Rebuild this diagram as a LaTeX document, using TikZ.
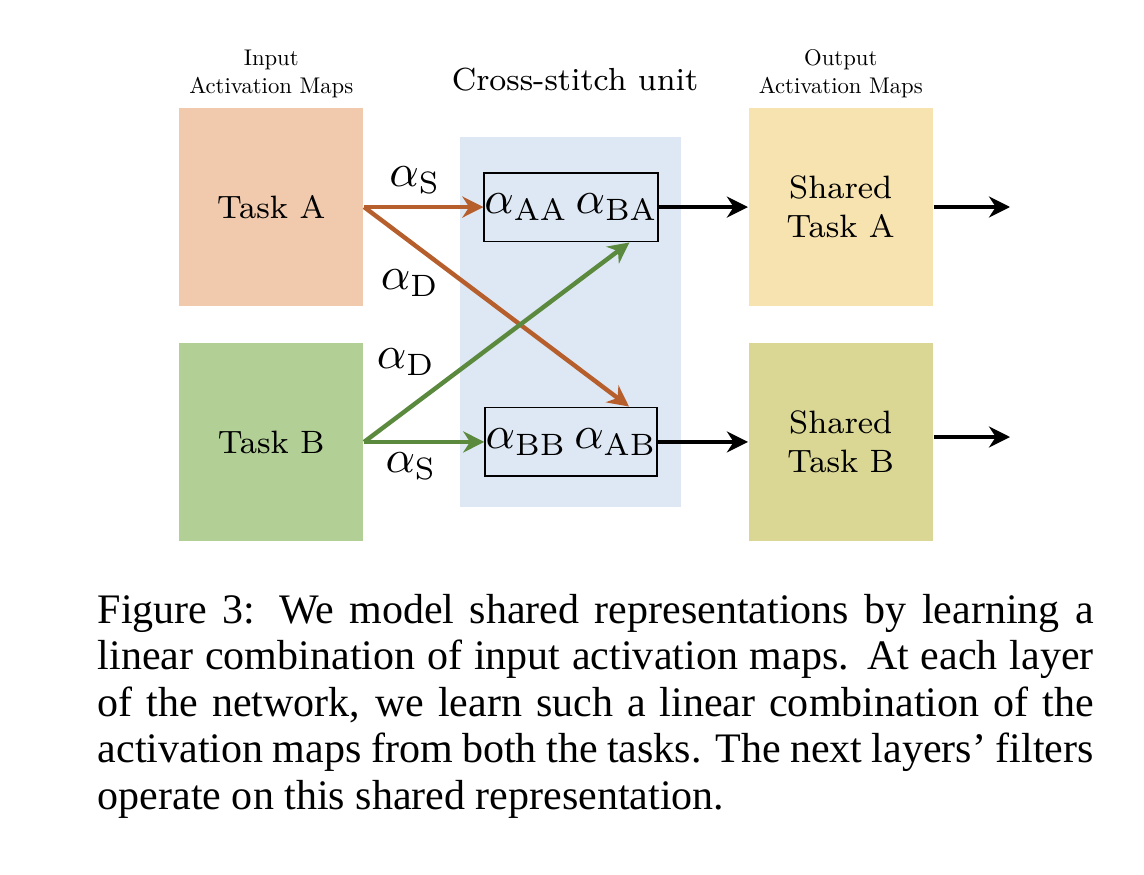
\documentclass[tikz,border=0pt]{standalone}
\usepackage{fontspec}
\usepackage{graphicx}
\newfontfamily\capfont{Liberation Serif}
\usetikzlibrary{matrix,positioning,arrows.meta}
\definecolor{inacol}{HTML}{F1CAAD}
\definecolor{inbcol}{HTML}{B2D096}
\definecolor{outacol}{HTML}{F7E3B0}
\definecolor{outbcol}{HTML}{DAD794}
\definecolor{unitcol}{HTML}{DEE8F4}
\definecolor{oarrow}{HTML}{B65F2C}
\definecolor{garrow}{HTML}{5B8A3E}
\newcommand{\maptitle}[2]{\scalebox{0.54}{\begin{tabular}{@{}c@{}}#1\\#2\end{tabular}}}
\tikzset{
map/.style={rectangle, anchor=center, minimum width=43.8pt, minimum height=47.1pt, inner sep=0pt, align=center, font=\fontsize{7.7}{9.3}\selectfont},
ina/.style={map, fill=inacol},
inb/.style={map, fill=inbcol},
outa/.style={map, fill=outacol},
outb/.style={map, fill=outbcol},
mix/.style={rectangle, anchor=center, draw=black, line width=0.45pt, minimum width=40.9pt, minimum height=16.4pt, inner sep=0pt, font=\fontsize{10.5}{12}\selectfont},
title/.style={inner sep=0pt, font=\fontsize{10}{12}\selectfont},
alpha/.style={inner sep=0pt, font=\fontsize{10.5}{12}\selectfont},
arrow/.style={line width=1.05pt, -{Stealth[length=5pt,width=5pt,inset=1.6pt]}},
}

\begin{document}
\begin{tikzpicture}[x=0.238pt, y=-0.238pt]
\useasboundingbox (0,0) rectangle (1144,874);

% cross-stitch unit background
\node[rectangle, fill=unitcol, minimum width=52.6pt, minimum height=88.1pt, inner sep=0pt](unit) at (570.5,322){};
\node[inner sep=0pt, font=\fontsize{7.6}{9}\selectfont](unit_title) at (575,80){Cross-stitch unit};

\matrix(m)[matrix of nodes, column sep=21.4pt, row sep=8.8pt, inner sep=0pt, nodes={anchor=center}] at (556,324.5){
\node[ina](taska){Task A}; &[7.2pt] \node[mix](mixa){$\alpha_{\mathrm{AA}}\,\alpha_{\mathrm{BA}}$}; & \node[outa](shareda){Shared\\Task A};\\
\node[inb](taskb){Task B}; & \node[mix](mixb){$\alpha_{\mathrm{BB}}\,\alpha_{\mathrm{AB}}$}; & \node[outb](sharedb){Shared\\Task B};\\
};

\node[title, above=1.2pt of taska](in_title){\maptitle{Input}{Activation Maps}};
\node[title, above=1.2pt of shareda](out_title){\maptitle{Output}{Activation Maps}};

\coordinate (enda) at (1010,207);
\coordinate (endb) at (1010,437);

\draw [arrow, oarrow] (taska.east) -- (mixa.west |- taska.east);
\draw [arrow, oarrow] (taska.east) -- ([xshift=-6.9pt]mixb.north east);
\draw [arrow, garrow] (taskb.east) -- (mixb.west |- taskb.east);
\draw [arrow, garrow] (taskb.east) -- ([xshift=-7pt]mixa.south east);

\draw [arrow] (mixa) -- (shareda);
\draw [arrow] (mixb) -- (sharedb);
\draw [arrow] (shareda.east |- enda) -- (enda);
\draw [arrow] (sharedb.east |- endb) -- (endb);

\node[alpha](s_top) at (415,180){$\alpha_{\mathrm{S}}$};
\node[alpha](d_top) at (410,283){$\alpha_{\mathrm{D}}$};
\node[alpha](d_bot) at (406,362){$\alpha_{\mathrm{D}}$};
\node[alpha](s_bot) at (411,466){$\alpha_{\mathrm{S}}$};

% caption
\node[anchor=north west, inner sep=0pt, font=\capfont\fontsize{10}{11.07}\selectfont](caption) at (97,593){\parbox[t]{237pt}{Figure 3: We model shared representations by learning a linear combination of input activation maps. At each layer of the network, we learn such a linear combination of the activation maps from both the tasks. The next layers’ filters operate on this shared representation.}};
\end{tikzpicture}
\end{document}
